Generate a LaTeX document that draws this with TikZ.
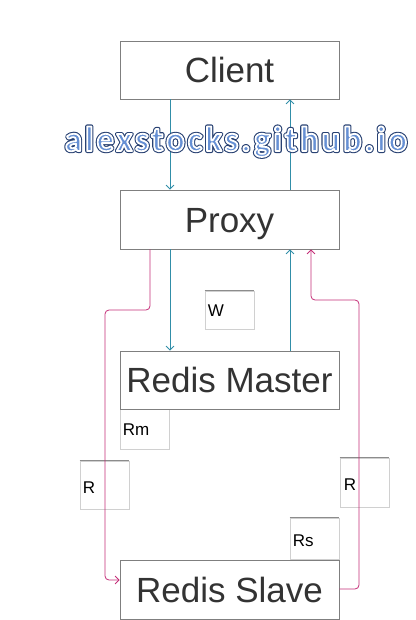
\documentclass[tikz,border=0pt]{standalone}
\usepackage{fontspec}
\setmainfont{Liberation Sans}
\newfontfamily\wmfont[LetterSpace=9]{Carlito}
\usetikzlibrary{arrows.meta}
\definecolor{boxgray}{HTML}{7F7F7F}
\definecolor{lightedge}{HTML}{D0D0D0}
\definecolor{topedge}{HTML}{8C8C8C}
\definecolor{txtgray}{HTML}{333333}
\definecolor{tealc}{HTML}{318EA8}
\definecolor{magc}{HTML}{C42E78}
\definecolor{wmblue}{HTML}{6690D4}
\definecolor{wmnavy}{HTML}{1F3A6E}
\newcommand\wmword{\resizebox{342pt}{\height}{\wmfont\bfseries\fontsize{35}{40}\selectfont alexstocks.github.io}}
\newcommand\wmback{\special{pdf:literal 2 Tr 4 w 1 j 0.16 0.26 0.45 RG}\wmword\special{pdf:literal 0 Tr}}
\newcommand\wmfront{\special{pdf:literal 2 Tr 1.8 w 1 j 1 1 1 RG}\wmword\special{pdf:literal 0 Tr}}
\tikzset{
  bigbox/.style={draw=boxgray, line width=0.8pt, fill=white, minimum width=219pt,
    text=txtgray, font=\fontsize{35}{40}\selectfont, text height=25pt, text depth=0pt, inner sep=0pt},
  smallbox/.style={draw=lightedge, line width=0.8pt, anchor=center, inner sep=0pt},
  smalllabel/.style={font=\fontsize{17}{20}\selectfont, anchor=west, inner sep=0pt, text height=12pt, text depth=0pt},
  smalltop/.style={draw=topedge, line width=0.9pt},
  tealarrow/.style={draw=tealc, line width=0.8pt, -{Straight Barb[length=4pt,width=8pt]}},
  magarrow/.style={draw=magc, line width=0.8pt, rounded corners=4pt, -{Straight Barb[length=4pt,width=8pt]}},
  wm/.style={inner sep=0pt, anchor=base}
}
\begin{document}
\begin{tikzpicture}[x=1pt,y=-1pt]
\useasboundingbox (0,0) rectangle (415,620);
% small label boxes
\node[smallbox, minimum width=49pt, minimum height=38pt] (w) at (229.5,310) {};
\node[smallbox, minimum width=49pt, minimum height=40pt] (rm) at (144.5,429) {};
\node[smallbox, minimum width=49pt, minimum height=48pt] (rl) at (104.5,485) {};
\node[smallbox, minimum width=49pt, minimum height=49pt] (rr) at (364.5,482.5) {};
\node[smallbox, minimum width=49pt, minimum height=41pt] (rs) at (314.5,538.5) {};
\foreach \n in {w,rl,rr,rs} \draw[smalltop] (\n.north west) -- (\n.north east);
% main boxes
\node[bigbox, minimum height=58pt] (client) at (229.5,70) {Client};
\node[bigbox, minimum height=59pt] (proxy) at (229.5,219.5) {Proxy};
\node[bigbox, minimum height=58pt] (master) at (229.5,380) {Redis Master};
\node[bigbox, minimum height=59pt] (slave) at (229.5,589.5) {Redis Slave};
% labels in small boxes
\node[smalllabel] (wl) at ([xshift=3pt]w.west) {W};
\node[smalllabel] (rml) at ([xshift=3pt]rm.west) {Rm};
\node[smalllabel] (rll) at ([xshift=3pt,yshift=-2pt]rl.west) {R};
\node[smalllabel] (rrl) at ([xshift=4pt,yshift=-1.5pt]rr.west) {R};
\node[smalllabel] (rsl) at ([xshift=3pt,yshift=-1.5pt]rs.west) {Rs};
% teal connectors
\draw[tealarrow] ([xshift=-59.5pt]client.south) -- ([xshift=-59.5pt]proxy.north);
\draw[tealarrow] ([xshift=60.5pt]proxy.north) -- ([xshift=60.5pt]client.south);
\draw[tealarrow] ([xshift=-59.5pt]proxy.south) -- ([xshift=-59.5pt]master.north);
\draw[tealarrow] ([xshift=60.5pt]master.north) -- ([xshift=60.5pt]proxy.south);
% magenta connectors
\coordinate (m1) at (105,310);
\coordinate (m2) at (359,300);
\draw[magarrow] ([xshift=-79.5pt]proxy.south) |- (m1) |- ([yshift=9.5pt]slave.west);
\draw[magarrow] ([yshift=0.5pt]slave.east) -| (m2) -| ([xshift=81.5pt]proxy.south);
% watermark: dark outer edge, then white rim over blue fill
\node[wm, text=wmnavy] (wmb) at (236,151) {\wmback};
\node[wm, text=wmblue] (wm) at (236,151) {\wmfront};
\end{tikzpicture}
\end{document}
